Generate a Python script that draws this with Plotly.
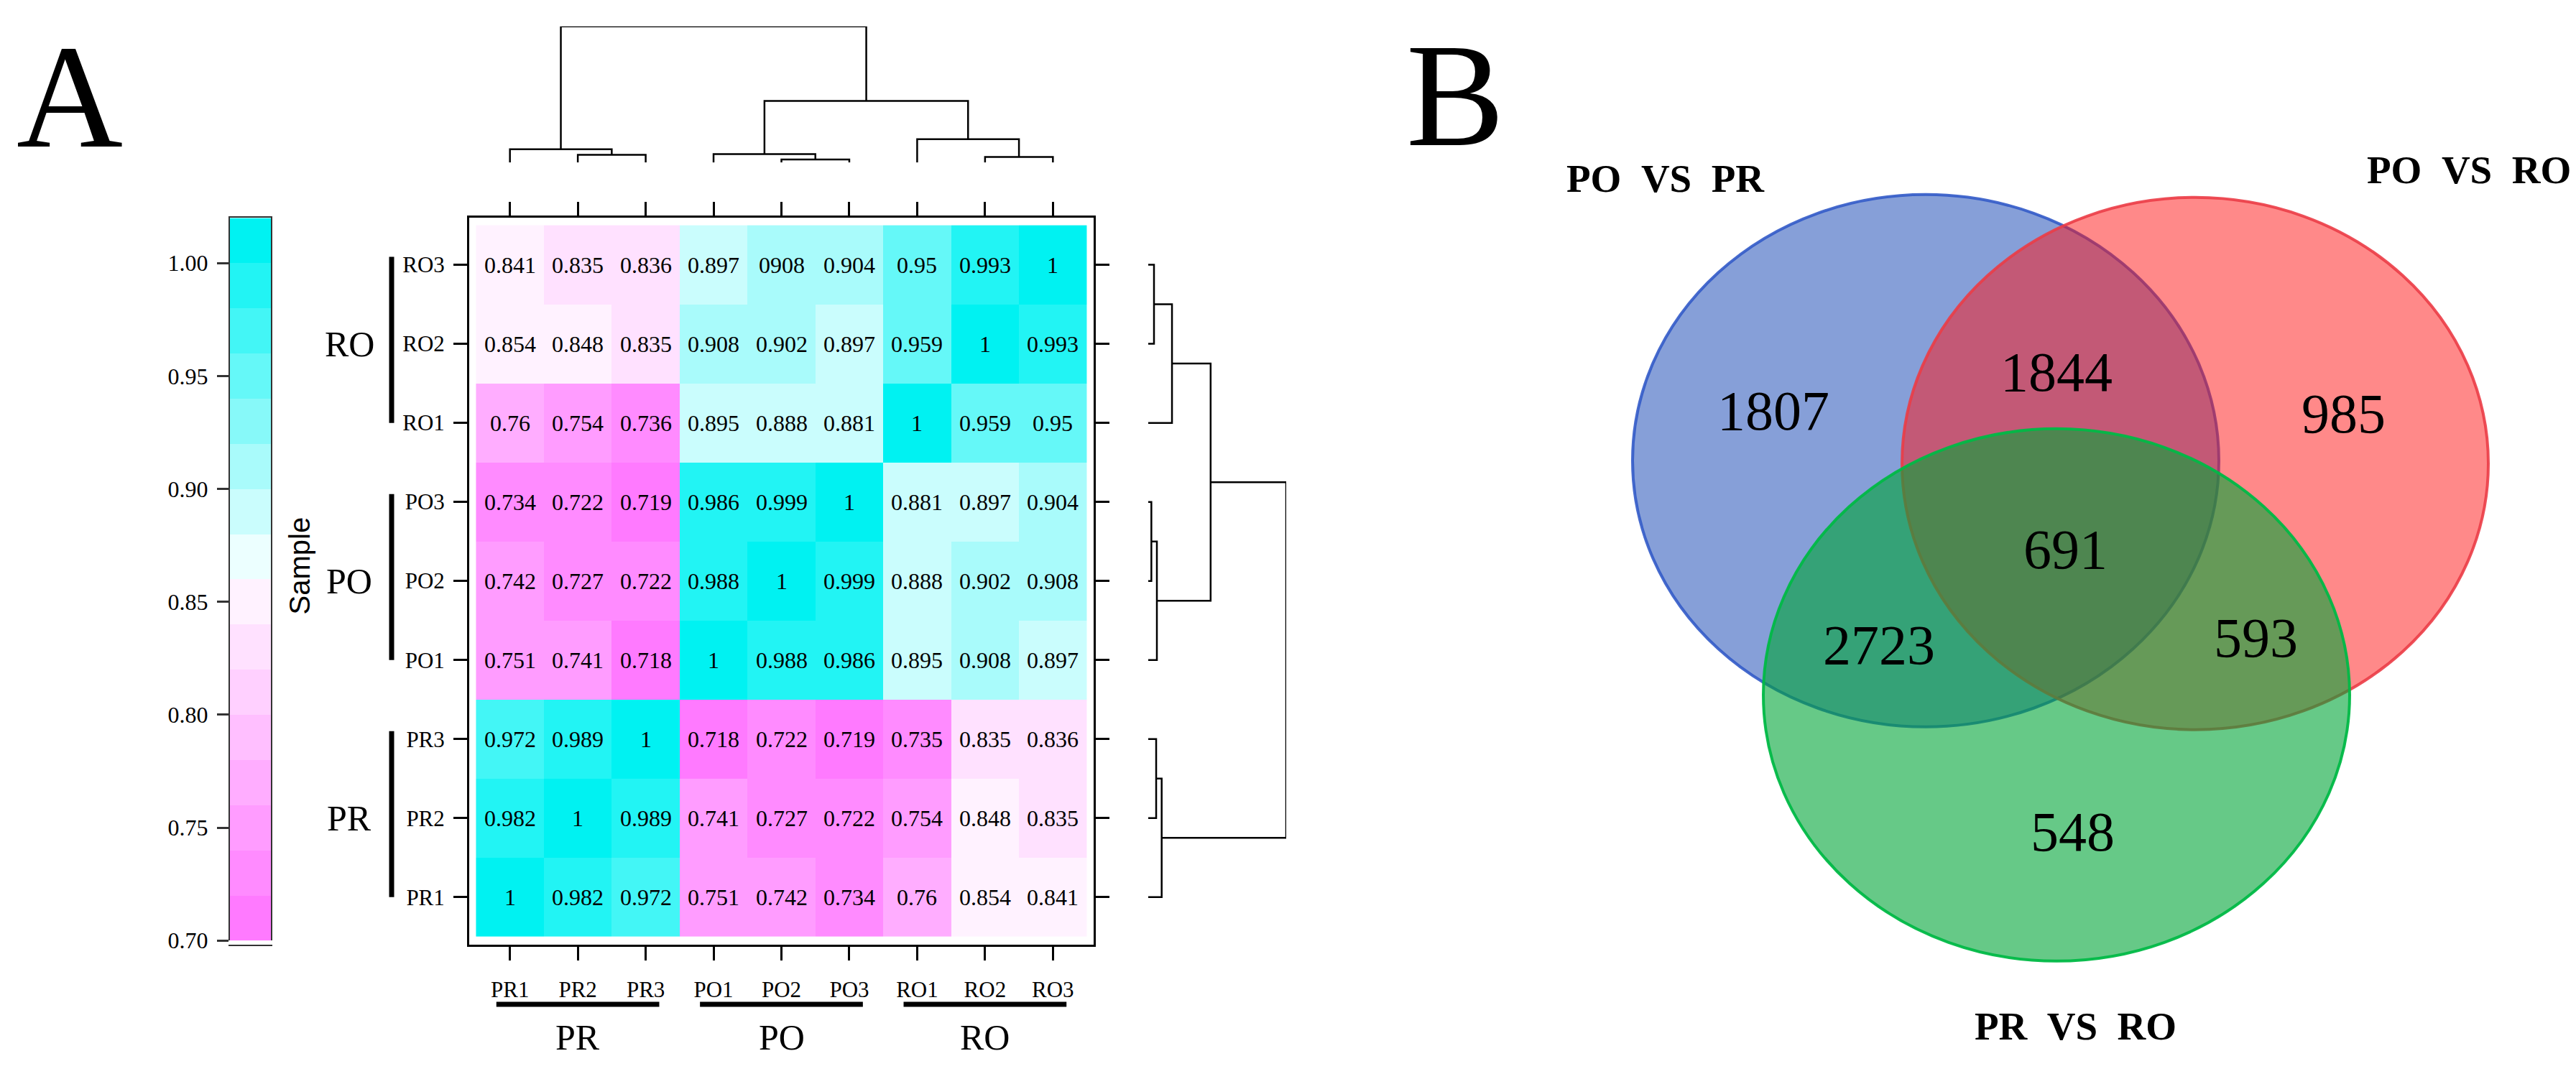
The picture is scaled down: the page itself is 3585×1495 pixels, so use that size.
import plotly.graph_objects as go

# ---- data ----
samples = ['PR1', 'PR2', 'PR3', 'PO1', 'PO2', 'PO3', 'RO1', 'RO2', 'RO3']
groups = ['PR', 'PO', 'RO']

# one row per sample, in the order of `samples` (PR1 drawn at the bottom)
corr = [
    [1, 0.982, 0.972, 0.751, 0.742, 0.734, 0.76, 0.854, 0.841],
    [0.982, 1, 0.989, 0.741, 0.727, 0.722, 0.754, 0.848, 0.835],
    [0.972, 0.989, 1, 0.718, 0.722, 0.719, 0.735, 0.835, 0.836],
    [0.751, 0.741, 0.718, 1, 0.988, 0.986, 0.895, 0.908, 0.897],
    [0.742, 0.727, 0.722, 0.988, 1, 0.999, 0.888, 0.902, 0.908],
    [0.734, 0.722, 0.719, 0.986, 0.999, 1, 0.881, 0.897, 0.904],
    [0.76, 0.754, 0.736, 0.895, 0.888, 0.881, 1, 0.959, 0.95],
    [0.854, 0.848, 0.835, 0.908, 0.902, 0.897, 0.959, 1, 0.993],
    [0.841, 0.835, 0.836, 0.897, 0.908, 0.904, 0.95, 0.993, 1],
]

# hierarchical clustering (same tree for rows and columns)
merge_pairs = [(1, 2), (0, 9), (4, 5), (3, 11), (7, 8), (6, 13), (12, 14), (10, 15)]
merge_heights = [33, 56, 13, 36, 24, 99, 260, 575]

colorbar_ticks = [0.70, 0.75, 0.80, 0.85, 0.90, 0.95, 1.00]

venn_sets = ['PO\u00a0\u00a0VS\u00a0\u00a0PR', 'PO\u00a0\u00a0VS\u00a0\u00a0RO', 'PR\u00a0\u00a0VS\u00a0\u00a0RO']
venn_regions = ['A', 'AB', 'B', 'ABC', 'AC', 'BC', 'C']
venn_counts = [1807, 1844, 985, 691, 2723, 593, 548]

# ---- page geometry (pixels of the 3585x1495 canvas) ----
W, H = 3585, 1495


def px(x):
    return x / W


def py(y):
    return 1 - y / H


SERIF = 'Liberation Serif, Times New Roman, serif'

# stepped cyan/white/magenta scale, 16 bands of 0.02 from 0.70 to 1.02
n_bands = 16
zlo, zhi = 0.70, 1.02


def mix(c1, c2, t):
    return tuple(round(a + (b - a) * t) for a, b in zip(c1, c2))


band_colors = []
for k in range(n_bands):
    if k < 8:
        c = mix((255, 122, 255), (255, 242, 255), k / 7)
    else:
        c = mix((236, 255, 255), (0, 242, 242), (k - 8) / 7)
    band_colors.append('rgb(%d,%d,%d)' % c)

colorscale = []
for k, c in enumerate(band_colors):
    colorscale.append([k / n_bands, c])
    colorscale.append([(k + 1) / n_bands, c])

band_centers = [zlo + 0.01 + 0.02 * k for k in range(n_bands)]

cell_text = [['{:g}'.format(v) for v in row] for row in corr]
cell_text[8][4] = '0908'  # as printed in the original figure


def dendro_lines(pairs, heights, n_leaves):
    pos = list(range(n_leaves))
    hgt = [0] * n_leaves
    xs, ys = [], []
    for (a, b), h in zip(pairs, heights):
        xs += [pos[a], pos[a], pos[b], pos[b], None]
        ys += [hgt[a], h, h, hgt[b], None]
        pos.append((pos[a] + pos[b]) / 2)
        hgt.append(h)
    return xs, ys


d_pos, d_hgt = dendro_lines(merge_pairs, merge_heights, len(samples))

fig = go.Figure()

# heatmap
fig.add_trace(go.Heatmap(
    z=corr, x=list(range(9)), y=list(range(9)),
    text=cell_text, texttemplate='%{text}',
    textfont=dict(family=SERIF, size=32, color='black'),
    colorscale=colorscale, zmin=zlo - 1e-4, zmax=zhi - 1e-4,
    showscale=False, hoverinfo='skip',
    xaxis='x', yaxis='y'))

# colour key drawn as its own one-column heatmap
fig.add_trace(go.Heatmap(
    z=[[v] for v in band_centers], x=[0], y=band_centers,
    colorscale=colorscale, zmin=zlo - 1e-4, zmax=zhi - 1e-4,
    showscale=False, hoverinfo='skip',
    xaxis='x2', yaxis='y2'))

# top dendrogram
fig.add_trace(go.Scatter(x=d_pos, y=d_hgt, mode='lines',
                         line=dict(color='black', width=2.5),
                         hoverinfo='skip', showlegend=False,
                         xaxis='x3', yaxis='y3'))
# right dendrogram
fig.add_trace(go.Scatter(x=d_hgt, y=d_pos, mode='lines',
                         line=dict(color='black', width=2.5),
                         hoverinfo='skip', showlegend=False,
                         xaxis='x4', yaxis='y4'))

hm_x = [px(645), px(1514)]
hm_y = [py(1322.6), py(298.2)]
cell_range = [-0.6, 8.6]

axis_common = dict(showgrid=False, zeroline=False, showline=True, linecolor='black',
                   linewidth=3, mirror='ticks', ticks='outside', ticklen=19,
                   tickwidth=2.5, tickcolor='black',
                   tickfont=dict(family=SERIF, size=31, color='black'))
hidden = dict(visible=False, showgrid=False, zeroline=False)

fig.update_layout(
    width=W, height=H,
    margin=dict(l=0, r=0, t=0, b=0),
    paper_bgcolor='white', plot_bgcolor='white',
    showlegend=False,
    xaxis=dict(domain=hm_x, range=cell_range, tickvals=list(range(9)),
               ticktext=samples, ticklabelstandoff=14, **axis_common),
    yaxis=dict(domain=hm_y, range=cell_range, tickvals=list(range(9)),
               ticktext=samples, ticklabelstandoff=6, **axis_common),
    xaxis2=dict(domain=[px(312), px(369)], range=[-0.5, 0.5], showgrid=False,
                zeroline=False, showticklabels=False, ticks='', showline=True,
                linecolor='#333333', linewidth=2, mirror=True),
    yaxis2=dict(domain=[py(1317), py(299)], range=[zlo, zhi], anchor='x2',
                tickvals=colorbar_ticks,
                ticktext=['%.2f' % t for t in colorbar_ticks],
                ticks='outside', ticklen=16, tickwidth=3, tickcolor='#333333',
                showgrid=False, zeroline=False, showline=True,
                linecolor='#333333', linewidth=2, mirror=True,
                ticklabelstandoff=6,
                tickfont=dict(family=SERIF, size=32, color='black')),
    xaxis3=dict(domain=hm_x, range=cell_range, anchor='y3', **hidden),
    yaxis3=dict(domain=[py(221), py(29)], range=[0, merge_heights[-1]],
                anchor='x3', **hidden),
    xaxis4=dict(domain=[px(1590), px(1782)], range=[0, merge_heights[-1]],
                anchor='y4', **hidden),
    yaxis4=dict(domain=hm_y, range=cell_range, anchor='x4', **hidden),
)

# group bars and labels around the heatmap
shapes = []
annotations = []
for g_i, g in enumerate(groups):
    lo, hi = 3 * g_i, 3 * g_i + 2
    shapes.append(dict(type='line', xref='paper', yref='y', x0=px(537), x1=px(537),
                       y0=lo, y1=hi + 0.1, line=dict(color='black', width=7)))
    shapes.append(dict(type='line', xref='x', yref='paper', x0=lo - 0.2, x1=hi + 0.2,
                       y0=py(1407), y1=py(1407), line=dict(color='black', width=7)))
    annotations.append(dict(text=g, xref='paper', yref='y', x=px(478), y=lo + 1,
                            xanchor='center', yanchor='middle', showarrow=False,
                            font=dict(family=SERIF, size=50, color='black')))
    annotations.append(dict(text=g, xref='x', yref='paper', x=lo + 1, y=py(1453),
                            xanchor='center', yanchor='middle', showarrow=False,
                            font=dict(family=SERIF, size=50, color='black')))

annotations.append(dict(text='Sample', xref='paper', yref='paper', x=px(409), y=py(789),
                        textangle=-90, showarrow=False, xanchor='center', yanchor='middle',
                        font=dict(family='Liberation Sans, Arial, sans-serif', size=40,
                                  color='black')))

# panel letters
annotations.append(dict(text='A', xref='paper', yref='paper', x=px(89), y=py(128),
                        showarrow=False, xanchor='center', yanchor='middle',
                        font=dict(family=SERIF, size=205, color='black')))
annotations.append(dict(text='B', xref='paper', yref='paper', x=px(2017), y=py(126),
                        showarrow=False, xanchor='center', yanchor='middle',
                        font=dict(family=SERIF, size=205, color='black')))

# ---- Venn diagram ----
venn_shapes = [
    # centre x, centre y, fill, outline
    (2672, 641, 'rgba(13,63,177,0.5)', 'rgba(50,90,200,0.9)'),
    (3047, 645, 'rgba(255,20,20,0.5)', 'rgba(235,60,70,0.9)'),
    (2854, 971, 'rgba(0,165,55,0.6)', 'rgba(0,185,70,0.95)'),
]
rx, ry = 408, 375
for cx, cy, fill, outline in venn_shapes:
    shapes.append(dict(type='circle', xref='paper', yref='paper',
                       x0=px(cx - rx), x1=px(cx + rx), y0=py(cy + ry), y1=py(cy - ry),
                       fillcolor=fill, line=dict(color=outline, width=4)))

set_label_pos = [(2310, 243), (3428, 231), (2880, 1438)]
for name, (lx, ly) in zip(venn_sets, set_label_pos):
    annotations.append(dict(text='<b>%s</b>' % name, xref='paper', yref='paper',
                            x=px(lx), y=py(ly), showarrow=False,
                            xanchor='center', yanchor='middle',
                            font=dict(family=SERIF, size=55, color='black')))

region_pos = {'A': (2460, 570), 'AB': (2854, 516), 'B': (3253, 574),
              'ABC': (2866, 766), 'AC': (2607, 900), 'BC': (3131, 890),
              'C': (2876, 1164)}
for region, count in zip(venn_regions, venn_counts):
    rxp, ryp = region_pos[region]
    annotations.append(dict(text=str(count), xref='paper', yref='paper',
                            x=px(rxp), y=py(ryp), showarrow=False,
                            xanchor='center', yanchor='middle',
                            font=dict(family=SERIF, size=78, color='black')))

fig.update_layout(shapes=shapes, annotations=annotations)

fig.write_html('out.html')
